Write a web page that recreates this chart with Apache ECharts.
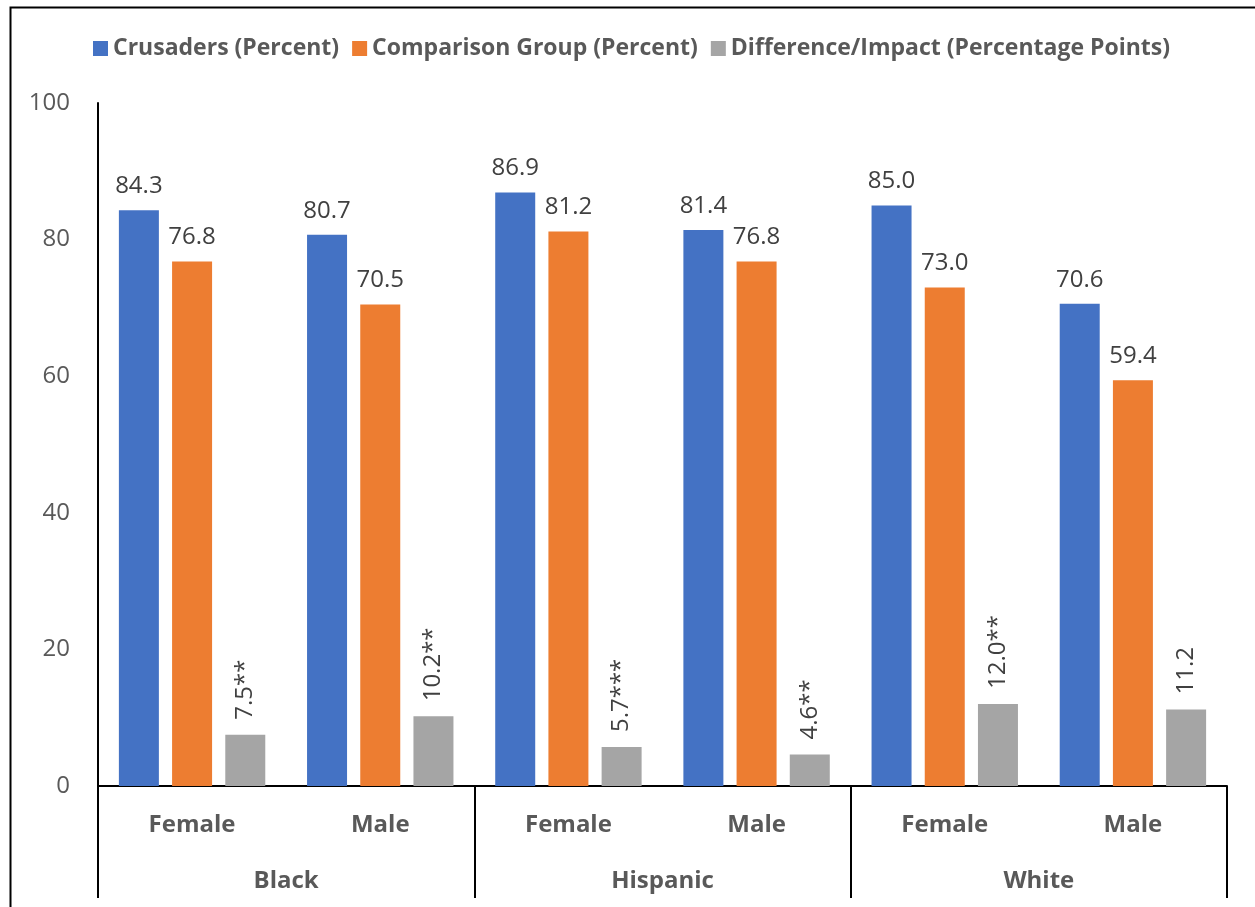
<!DOCTYPE html>
<html>
<head>
<meta charset="utf-8">
<script src="https://cdn.jsdelivr.net/npm/echarts@6/dist/echarts.min.js"></script>
<style>
html,body{margin:0;padding:0;background:#fff;}
#chart{width:1255px;height:907px;}
</style>
</head>
<body>
<div id="chart"></div>
<script>
const genders = ['Female', 'Male', 'Female', 'Male', 'Female', 'Male'];
const groups = ['Black', 'Hispanic', 'White'];
const seriesNames = ['Crusaders (Percent)', 'Comparison Group (Percent)', 'Difference/Impact (Percentage Points)'];
const crusaders = [84.3, 80.7, 86.9, 81.4, 85.0, 70.6];
const comparison = [76.8, 70.5, 81.2, 76.8, 73.0, 59.4];
const difference = [7.5, 10.2, 5.7, 4.6, 12.0, 11.2];
const differenceLabels = ['7.5**', '10.2**', '5.7***', '4.6**', '12.0**', '11.2'];
const yTicks = [0, 20, 40, 60, 80, 100];

const FONT = '"Open Sans", Lato, sans-serif';
const chart = echarts.init(document.getElementById('chart'));

const valueLabel = {
  show: true, position: 'top', distance: 12,
  color: '#404040', fontSize: 24, fontFamily: FONT,
  formatter: p => Number(p.value).toFixed(1)
};

chart.setOption({
  animation: false,
  textStyle: { fontFamily: FONT },
  graphic: [{
    type: 'rect', left: 8, top: 5, z: -10,
    shape: { width: 1280, height: 950 },
    style: { fill: 'none', stroke: '#000', lineWidth: 2 }
  }],
  legend: {
    top: 32, left: 88,
    itemWidth: 15, itemHeight: 15, itemGap: 13,
    icon: 'rect',
    textStyle: { fontSize: 23, fontWeight: 'bold', color: '#595959', fontFamily: FONT },
    data: seriesNames
  },
  grid: { left: 98, right: 28, top: 103, bottom: 121, containLabel: false },
  xAxis: [{
    type: 'category', data: genders, position: 'bottom',
    axisLine: { lineStyle: { color: '#000', width: 2 } },
    axisTick: { show: false },
    axisLabel: { margin: 27, fontSize: 24, fontWeight: 'bold', color: '#595959', fontFamily: FONT, interval: 0 }
  }, {
    type: 'category', data: groups, position: 'bottom', offset: 0,
    axisLine: { show: false },
    axisTick: { show: true, length: 112, lineStyle: { color: '#000', width: 2 } },
    axisLabel: { margin: 83, fontSize: 24, fontWeight: 'bold', color: '#595959', fontFamily: FONT, interval: 0 }
  }],
  yAxis: {
    type: 'value', min: yTicks[0], max: yTicks[yTicks.length - 1], interval: 20,
    splitLine: { show: false },
    axisLine: { show: true, lineStyle: { color: '#000', width: 2 } },
    axisTick: { show: false },
    axisLabel: { margin: 28, fontSize: 24, color: '#595959', fontFamily: FONT }
  },
  series: [{
    name: seriesNames[0], type: 'bar', data: crusaders, barWidth: 40, barGap: '33%',
    itemStyle: { color: '#4472C4' }, label: valueLabel
  }, {
    name: seriesNames[1], type: 'bar', data: comparison, barWidth: 40, barGap: '33%',
    itemStyle: { color: '#ED7D31' }, label: valueLabel
  }, {
    name: seriesNames[2], type: 'bar', data: difference, barWidth: 40, barGap: '33%',
    itemStyle: { color: '#A5A5A5' },
    label: {
      show: true, position: 'top', distance: 15, rotate: 90,
      align: 'left', verticalAlign: 'middle',
      color: '#404040', fontSize: 24, fontFamily: FONT,
      formatter: p => differenceLabels[p.dataIndex]
    }
  }]
});
</script>
</body>
</html>
